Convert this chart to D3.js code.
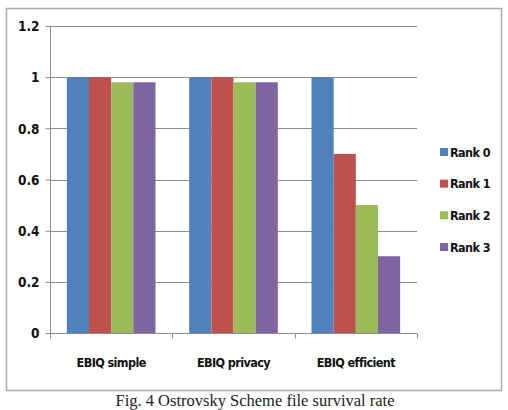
<!DOCTYPE html>
<html>
<head>
<meta charset="utf-8">
<script src="https://cdn.jsdelivr.net/npm/d3@7"></script>
<style>
  body { margin: 0; background: #fff; }
  .lbl { font-family: "Liberation Sans Narrow", "DejaVu Sans Condensed", sans-serif; font-weight: bold; fill: #111; }
</style>
</head>
<body>
<div id="chart"></div>
<script>
const categories = ['EBIQ simple', 'EBIQ privacy', 'EBIQ efficient']
const seriesNames = ['Rank 0', 'Rank 1', 'Rank 2', 'Rank 3']
const rank0 = [1, 1, 1]
const rank1 = [1, 1, 0.7]
const rank2 = [0.98, 0.98, 0.5]
const rank3 = [0.98, 0.98, 0.3]
const yTicks = [0, 0.2, 0.4, 0.6, 0.8, 1, 1.2]
const colors = ['#4f81bd', '#c0504d', '#9bbb59', '#8064a2']

const series = [rank0, rank1, rank2, rank3]
const width = 508
const height = 410

const svg = d3.select('#chart').append('svg')
  .attr('width', width)
  .attr('height', height)

// chart frame
svg.append('rect')
  .attr('x', 6.5).attr('y', 8.5)
  .attr('width', 495).attr('height', 382)
  .attr('fill', '#fff')
  .attr('stroke', '#aaa')
  .attr('stroke-width', 1.5)

const plot = { left: 50, right: 417, top: 26, bottom: 333 }

const x = d3.scaleBand().domain(categories).range([plot.left, plot.right]).paddingInner(0).paddingOuter(0)
const xi = d3.scaleBand().domain(seriesNames).range([0, x.bandwidth()]).paddingOuter(0.76).paddingInner(0)
const y = d3.scaleLinear().domain([0, 1.2]).range([plot.bottom, plot.top])

// gridlines
svg.append('g').selectAll('line').data(yTicks.filter(d => d > 0)).join('line')
  .attr('x1', plot.left).attr('x2', plot.right)
  .attr('y1', d => Math.round(y(d)) + 0.5).attr('y2', d => Math.round(y(d)) + 0.5)
  .attr('stroke', '#8c8c8c')

// bars
const groups = svg.append('g').selectAll('g').data(categories).join('g')
  .attr('transform', d => `translate(${x(d)},0)`)
groups.selectAll('rect').data((d, i) => series.map((s, k) => ({ k, v: s[i] }))).join('rect')
  .attr('x', d => xi(seriesNames[d.k]))
  .attr('width', xi.bandwidth())
  .attr('y', d => y(d.v))
  .attr('height', d => plot.bottom - y(d.v))
  .attr('fill', d => colors[d.k])

// y axis
const yAxis = svg.append('g')
  .attr('transform', `translate(${plot.left + 0.5},0)`)
  .call(d3.axisLeft(y).tickValues(yTicks).tickSize(5).tickPadding(6).tickFormat(d => d3.format('~g')(d)))
yAxis.select('.domain').attr('stroke', '#8c8c8c').attr('d', `M0,${plot.top}V${plot.bottom}`)
yAxis.selectAll('.tick line').attr('stroke', '#8c8c8c')
yAxis.selectAll('.tick text').attr('class', 'lbl').attr('font-size', 13.5).attr('dy', '0.35em').attr('x', -11)

// x axis
const xAxis = svg.append('g')
  .attr('transform', `translate(0,${plot.bottom + 0.5})`)
xAxis.append('line')
  .attr('x1', plot.left).attr('x2', plot.right)
  .attr('stroke', '#8c8c8c')
xAxis.selectAll('.tk').data([...categories.map(c => x(c)), plot.right]).join('line')
  .attr('class', 'tk')
  .attr('x1', d => Math.round(d) + 0.5).attr('x2', d => Math.round(d) + 0.5)
  .attr('y1', 0).attr('y2', 5)
  .attr('stroke', '#8c8c8c')
xAxis.selectAll('text').data(categories).join('text')
  .attr('class', 'lbl')
  .attr('x', d => x(d) + x.bandwidth() / 2)
  .attr('y', 33)
  .attr('text-anchor', 'middle')
  .attr('font-size', 12.5)
  .attr('letter-spacing', -0.6)
  .text(d => d)

// legend
const legend = svg.append('g').attr('transform', 'translate(440,0)')
const ly = d3.scalePoint().domain(seriesNames).range([152, 247])
const li = legend.selectAll('g').data(seriesNames).join('g')
  .attr('transform', d => `translate(0,${ly(d)})`)
li.append('rect')
  .attr('x', 0).attr('y', -4).attr('width', 8).attr('height', 8)
  .attr('fill', (d, i) => colors[i])
li.append('text')
  .attr('class', 'lbl')
  .attr('x', 10).attr('dy', '0.36em')
  .attr('font-size', 12.5)
  .attr('letter-spacing', -0.6)
  .text(d => d)

// caption
svg.append('text')
  .attr('x', 255).attr('y', 406)
  .attr('text-anchor', 'middle')
  .attr('font-family', '"Liberation Serif", "DejaVu Serif", serif')
  .attr('font-size', 16.5)
  .attr('fill', '#222')
  .text('Fig. 4 Ostrovsky Scheme file survival rate')
</script>
</body>
</html>
